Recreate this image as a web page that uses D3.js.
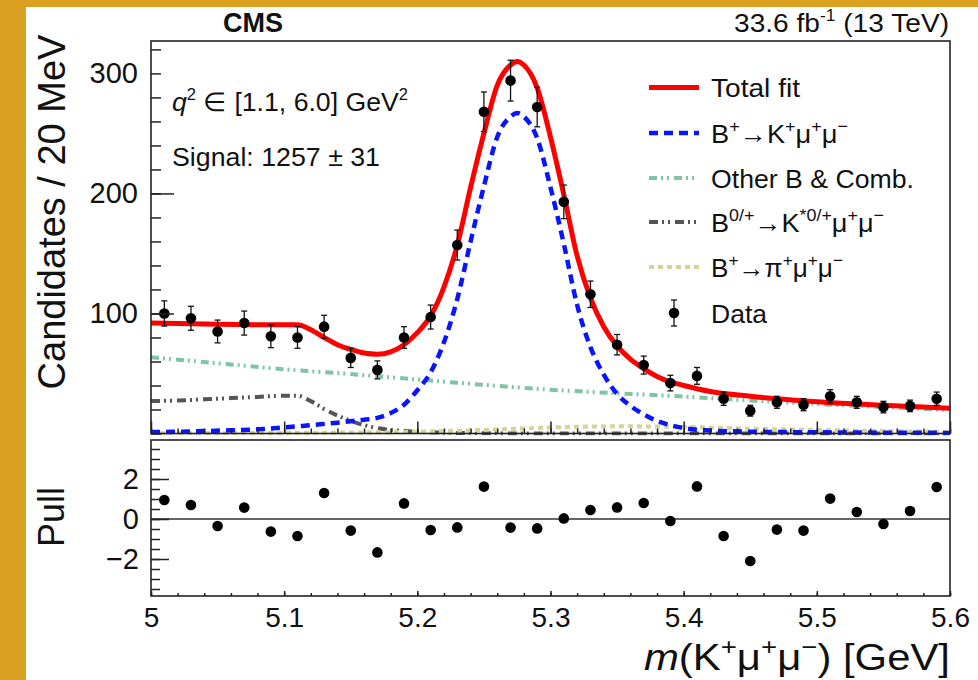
<!DOCTYPE html>
<html><head><meta charset="utf-8">
<script src="https://cdn.jsdelivr.net/npm/d3@7"></script>
<style>
body{margin:0;background:#fff}
svg{display:block}
text{font-family:"Liberation Sans",Arial,Helvetica,sans-serif;fill:#111}
</style>
</head><body>
<svg id="c" width="978" height="680"></svg>
<script>
// ---------------- data ----------------
const binCenters = [5.01,5.03,5.05,5.07,5.09,5.11,5.13,5.15,5.17,5.19,5.21,5.23,5.25,5.27,5.29,5.31,5.33,5.35,5.37,5.39,5.41,5.43,5.45,5.47,5.49,5.51,5.53,5.55,5.57,5.59];
const counts = [100,96,85,92,81,80,89,63,53,80,97,157,268,294,272,193,116,74,57,42,48,29,19,26,24,31,26,22,23,29];
const countErrors = [10.5,10,9.5,10,9.5,9,9.5,8,7.5,9,10,12.5,16.5,17,16.5,14,11,8.5,7.5,6.5,7,5.5,4.5,5,5,5.5,5,4.8,4.8,5.5];
const pulls = [0.95,0.7,-0.35,0.57,-0.63,-0.85,1.3,-0.58,-1.67,0.78,-0.55,-0.42,1.62,-0.43,-0.47,0.03,0.45,0.58,0.8,-0.1,1.63,-0.85,-2.1,-0.53,-0.58,1.02,0.35,-0.25,0.4,1.6];

const totalFit = [[5.00,92],[5.05,91],[5.10,90.5],[5.11,90.5],[5.12,86.5],[5.13,80],[5.14,74],[5.15,70],[5.16,67],[5.17,66],[5.18,68],[5.19,74],[5.20,84],[5.21,98],[5.22,122],[5.23,157],[5.24,205],[5.25,250],[5.26,290],[5.27,307],[5.275,310],[5.28,307],[5.29,288],[5.30,247],[5.31,199],[5.32,148],[5.33,113],[5.34,89],[5.35,73],[5.36,62],[5.37,54],[5.38,47.5],[5.39,43],[5.40,40],[5.42,35],[5.45,31],[5.50,26.5],[5.55,23.5],[5.60,21]];
const signalKmumu = [[5.00,1.2],[5.02,1.5],[5.04,2],[5.06,2.7],[5.08,3.5],[5.10,5],[5.12,7],[5.14,9],[5.16,11.5],[5.17,13],[5.18,17],[5.19,24],[5.20,36],[5.21,51],[5.22,76],[5.23,112],[5.24,160],[5.25,206],[5.26,247],[5.27,264],[5.275,267],[5.28,264],[5.29,246],[5.30,205],[5.31,158],[5.32,107],[5.33,72],[5.34,49],[5.35,33],[5.36,23],[5.37,16],[5.38,10.5],[5.39,7],[5.40,4.5],[5.42,2.5],[5.45,1.5],[5.50,1],[5.60,0.5]];
const otherBComb = [[5.00,63.5],[5.05,58.5],[5.10,53.5],[5.15,49.5],[5.20,45],[5.25,40.5],[5.30,36.5],[5.35,33.5],[5.40,30.8],[5.45,27.5],[5.50,24.5],[5.55,22],[5.60,19.5]];
const partRecoKstar = [[5.00,27],[5.02,27.5],[5.04,28.5],[5.06,29.5],[5.08,30.5],[5.10,31.5],[5.11,31.5],[5.12,27],[5.13,20.5],[5.14,15],[5.15,10.5],[5.16,7],[5.17,4.5],[5.18,3],[5.20,1.5],[5.22,0.7],[5.25,0.2],[5.30,0],[5.60,0]];
const piMuMu = [[5.00,0.3],[5.10,0.5],[5.20,1.5],[5.25,3],[5.30,5],[5.35,6],[5.40,5.5],[5.45,4],[5.50,3],[5.55,2],[5.60,1.3]];

const xMajorTicks = [5.0,5.1,5.2,5.3,5.4,5.5,5.6];
const xTickLabels = ["5","5.1","5.2","5.3","5.4","5.5","5.6"];
const yTickLabels = [100,200,300];
const pullTickLabels = [-2,0,2];

// ---------------- layout ----------------
const L = 151, R = 950, T1 = 41, B1 = 433.5, T2 = 440, B2 = 596;
const svg = d3.select("#c");
svg.append("rect").attr("width",978).attr("height",680).attr("fill","#d9a11f");
svg.append("rect").attr("x",26).attr("y",7).attr("width",952).attr("height",673).attr("fill","#fff");

const x = d3.scaleLinear().domain([5,5.6]).range([L,R]);
const y1 = d3.scaleLinear().domain([0,327]).range([B1,T1]);
const y2 = d3.scaleLinear().domain([-3.85,3.95]).range([B2,T2]);

const FONT = '"Liberation Sans",Arial,Helvetica,sans-serif';

function styleAxis(g, fs){
  g.select(".domain").remove();
  g.attr("font-family",FONT).attr("font-size",fs);
  g.selectAll(".tick line").attr("stroke","#222").attr("stroke-width",1.5);
  g.selectAll(".tick text").attr("fill","#111");
}

// rich text helper
function rich(x0,y0,parts,size,anchor,supScale){
  const ss = supScale || 0.62;
  const t = svg.append("text").attr("x",x0).attr("y",y0).attr("font-size",size)
    .attr("text-anchor",anchor||"start");
  let shift = 0;
  parts.forEach(p=>{
    const ts = t.append("tspan").text(p.t);
    const target = p.sup ? -size*0.42 : 0;
    ts.attr("dy", target-shift); shift = target;
    if(p.sup) ts.attr("font-size", size*ss);
    if(p.i) ts.attr("font-style","italic");
  });
  return t;
}

// clip
svg.append("clipPath").attr("id","clipTop").append("rect")
  .attr("x",L).attr("y",T1).attr("width",R-L).attr("height",B1-T1+2);

// ---------------- top panel curves ----------------
const line1 = d3.line().x(d=>x(d[0])).y(d=>y1(d[1])).curve(d3.curveMonotoneX);
const curves = svg.append("g").attr("clip-path","url(#clipTop)");
const curveStyles = [
  {data:otherBComb, color:"#80c4a6", w:4, dash:"8,4,2,4,2,5"},
  {data:partRecoKstar, color:"#555555", w:4, dash:"9,4,2,4,2,5"},
  {data:piMuMu, color:"#d6d29a", w:4, dash:"5,4"},
  {data:signalKmumu, color:"#0a14ff", w:4.5, dash:"9,6"},
  {data:totalFit, color:"#ff0000", w:5, dash:null}
];
curveStyles.forEach(c=>{
  curves.append("path").datum(c.data).attr("d",line1).attr("fill","none")
    .attr("stroke",c.color).attr("stroke-width",c.w)
    .attr("stroke-dasharray",c.dash);
});

// data points
const pts = svg.append("g");
binCenters.forEach((m,i)=>{
  const cx = x(m), lo = y1(counts[i]-countErrors[i]), hi = y1(counts[i]+countErrors[i]);
  pts.append("line").attr("x1",cx).attr("x2",cx).attr("y1",lo).attr("y2",hi).attr("stroke","#111").attr("stroke-width",1.3);
  [lo,hi].forEach(yy=>pts.append("line").attr("x1",cx-3).attr("x2",cx+3).attr("y1",yy).attr("y2",yy).attr("stroke","#111").attr("stroke-width",1.3));
  pts.append("circle").attr("cx",cx).attr("cy",y1(counts[i])).attr("r",5.3).attr("fill","#000");
});

// axes top
const gy1a = svg.append("g").attr("transform",`translate(${L},0)`)
  .call(d3.axisLeft(y1).tickValues(d3.range(0,321,20)).tickSize(-10).tickFormat(""));
styleAxis(gy1a,29);
const gy1b = svg.append("g").attr("transform",`translate(${L},0)`)
  .call(d3.axisLeft(y1).tickValues([100,200]).tickSize(-23).tickFormat(""));
styleAxis(gy1b,29);
const gy1c = svg.append("g").attr("transform",`translate(${L},0)`)
  .call(d3.axisLeft(y1).tickValues(yTickLabels).tickSize(0).tickPadding(13));
styleAxis(gy1c,29);

const gx1a = svg.append("g").attr("transform",`translate(0,${B1})`)
  .call(d3.axisBottom(x).tickValues(d3.range(0,31).map(k=>5+k*0.02)).tickSize(-5).tickFormat(""));
styleAxis(gx1a,28);
const gx1b = svg.append("g").attr("transform",`translate(0,${B1})`)
  .call(d3.axisBottom(x).tickValues(xMajorTicks).tickSize(-12).tickFormat(""));
styleAxis(gx1b,28);

svg.append("rect").attr("x",L).attr("y",T1).attr("width",R-L).attr("height",B1-T1)
  .attr("fill","none").attr("stroke","#222").attr("stroke-width",1.6);

// ---------------- pull panel ----------------
svg.append("line").attr("x1",x(5)).attr("x2",x(5.6)).attr("y1",y2(0)).attr("y2",y2(0))
  .attr("stroke","#333").attr("stroke-width",1.5);
const pp = svg.append("g");
binCenters.forEach((m,i)=>{
  pp.append("circle").attr("cx",x(m)).attr("cy",y2(pulls[i])).attr("r",5.3).attr("fill","#000");
});

const gy2a = svg.append("g").attr("transform",`translate(${L},0)`)
  .call(d3.axisLeft(y2).tickValues(d3.range(-7,8).map(k=>k*0.5)).tickSize(-9).tickFormat(""));
styleAxis(gy2a,29);
const gy2b = svg.append("g").attr("transform",`translate(${L},0)`)
  .call(d3.axisLeft(y2).tickValues(pullTickLabels).tickSize(-18).tickPadding(12)
    .tickFormat(d=> d<0 ? "\u2212"+(-d) : String(d)));
styleAxis(gy2b,29);

const gx2a = svg.append("g").attr("transform",`translate(0,${B2})`)
  .call(d3.axisBottom(x).tickValues(d3.range(0,31).map(k=>5+k*0.02)).tickSize(-3).tickFormat(""));
styleAxis(gx2a,28);
const gx2b = svg.append("g").attr("transform",`translate(0,${B2})`)
  .call(d3.axisBottom(x).tickValues(xMajorTicks).tickSize(-5).tickPadding(11)
    .tickFormat((d,i)=>xTickLabels[i]));
styleAxis(gx2b,28);

svg.append("rect").attr("x",L).attr("y",T2).attr("width",R-L).attr("height",B2-T2)
  .attr("fill","none").attr("stroke","#222").attr("stroke-width",1.6);

// ---------------- titles ----------------
svg.append("text").attr("transform","translate(65,212) rotate(-90)").attr("text-anchor","middle")
  .attr("font-size",38).text("Candidates / 20 MeV");
svg.append("text").attr("transform","translate(64,517) rotate(-90)").attr("text-anchor","middle")
  .attr("font-size",36).text("Pull");

rich(950,670,[{t:"m",i:true},{t:"(K"},{t:"+",sup:1},{t:"\u03bc"},{t:"+",sup:1},{t:"\u03bc"},{t:"\u2212",sup:1},{t:") [GeV]"}],36,"end",0.66)
  .attr("textLength",306).attr("lengthAdjust","spacingAndGlyphs");

svg.append("text").attr("x",223).attr("y",32).attr("font-size",27).attr("font-weight","bold").text("CMS");
rich(949,32,[{t:"33.6 fb"},{t:"-1",sup:1},{t:" (13 TeV)"}],26,"end")
  .attr("textLength",215).attr("lengthAdjust","spacingAndGlyphs");

rich(172,111,[{t:"q",i:true},{t:"2",sup:1},{t:" \u2208 [1.1, 6.0] GeV"},{t:"2",sup:1}],26,"start")
  .attr("textLength",236).attr("lengthAdjust","spacingAndGlyphs");
rich(172,166,[{t:"Signal: 1257 \u00b1 31"}],26,"start")
  .attr("textLength",208).attr("lengthAdjust","spacingAndGlyphs");

// ---------------- legend ----------------
const legRows = [87.5,133,178,222,267,313];
const legStyles = [curveStyles[4],curveStyles[3],curveStyles[0],curveStyles[1],curveStyles[2]];
legStyles.forEach((c,i)=>{
  svg.append("line").attr("x1",649).attr("x2",699).attr("y1",legRows[i]).attr("y2",legRows[i])
    .attr("stroke",c.color).attr("stroke-width",c.w).attr("stroke-dasharray",c.dash);
});
const legTexts = [
  [{t:"Total fit"}],
  [{t:"B"},{t:"+",sup:1},{t:"\u2192K"},{t:"+",sup:1},{t:"\u03bc"},{t:"+",sup:1},{t:"\u03bc"},{t:"\u2212",sup:1}],
  [{t:"Other B & Comb."}],
  [{t:"B"},{t:"0/+",sup:1},{t:"\u2192K"},{t:"*0/+",sup:1},{t:"\u03bc"},{t:"+",sup:1},{t:"\u03bc"},{t:"\u2212",sup:1}],
  [{t:"B"},{t:"+",sup:1},{t:"\u2192\u03c0"},{t:"+",sup:1},{t:"\u03bc"},{t:"+",sup:1},{t:"\u03bc"},{t:"\u2212",sup:1}],
  [{t:"Data"}]
];
const legWidths = [89,137,203,173,132,56];
legTexts.forEach((p,i)=> rich(711,legRows[i]+9.5,p,26,"start",0.66)
  .attr("textLength",legWidths[i]).attr("lengthAdjust","spacingAndGlyphs"));
// data marker in legend
const ly = legRows[5], lx = 674;
svg.append("line").attr("x1",lx).attr("x2",lx).attr("y1",ly-13).attr("y2",ly+13).attr("stroke","#111").attr("stroke-width",1.3);
[ly-13,ly+13].forEach(yy=>svg.append("line").attr("x1",lx-3).attr("x2",lx+3).attr("y1",yy).attr("y2",yy).attr("stroke","#111").attr("stroke-width",1.3));
svg.append("circle").attr("cx",lx).attr("cy",ly).attr("r",5.3).attr("fill","#000");
</script>
</body></html>
